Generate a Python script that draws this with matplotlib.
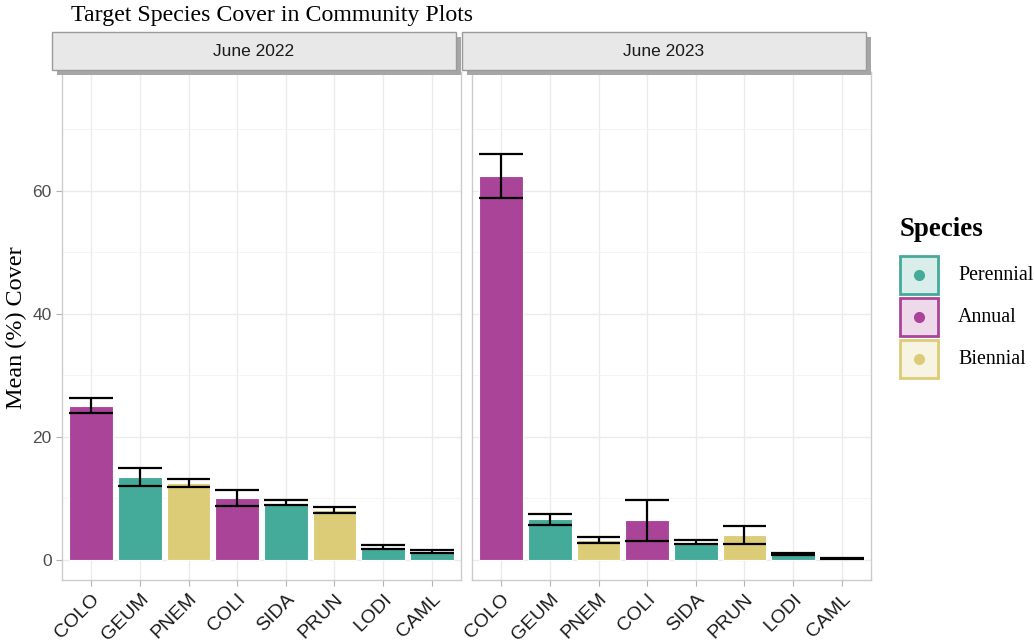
import numpy as np
import matplotlib.pyplot as plt
from matplotlib.patches import Rectangle
from matplotlib.lines import Line2D

# Data
species = ['COLO', 'GEUM', 'PNEM', 'COLI', 'SIDA', 'PRUN', 'LODI', 'CAML']
life_form = ['Annual', 'Perennial', 'Biennial', 'Annual', 'Perennial', 'Biennial', 'Perennial', 'Perennial']
panels = ['June 2022', 'June 2023']
mean_2022 = [25.1, 13.5, 12.5, 10.1, 9.3, 8.1, 2.1, 1.4]
se_2022 = [1.15, 1.5, 0.65, 1.3, 0.4, 0.45, 0.3, 0.2]
mean_2023 = [62.4, 6.6, 3.25, 6.45, 2.9, 4.05, 0.98, 0.2]
se_2023 = [3.5, 0.95, 0.45, 3.3, 0.38, 1.43, 0.2, 0.1]
legend_order = ['Perennial', 'Annual', 'Biennial']
colors = {'Perennial': '#44AA99', 'Annual': '#AA4499', 'Biennial': '#DDCC77'}

W, H = 1034, 643
fig = plt.figure(figsize=(W / 100, H / 100), dpi=100)

def fx(px):
    return px / W

def fy(py):
    return 1 - py / H

serif = ['Liberation Serif', 'DejaVu Serif']
sans = ['Liberation Sans', 'DejaVu Sans']

panel_px = [(62, 461), (472, 871)]
top_px, bot_px = 72, 580
x = np.arange(len(species))

for i, (name, means, ses) in enumerate(zip(panels, [mean_2022, mean_2023], [se_2022, se_2023])):
    l, r = panel_px[i]
    ax = fig.add_axes([fx(l), fy(bot_px), fx(r - l), (bot_px - top_px) / H])
    ax.set_xlim(-0.6, 7.6)
    ax.set_ylim(-3.25, 79.3)
    ax.set_xticks(x)
    ax.set_yticks([0, 20, 40, 60])
    ax.set_yticks([10, 30, 50, 70], minor=True)
    ax.grid(True, which='major', color='#EBEBEB', lw=1.0)
    ax.grid(True, which='minor', axis='y', color='#F2F2F2', lw=0.6)
    ax.set_axisbelow(True)
    for s in ax.spines.values():
        s.set_color('#CCCCCC')
        s.set_linewidth(1.0)
    ax.tick_params(axis='both', which='major', color='#B3B3B3', length=4, width=0.8)
    ax.tick_params(axis='y', which='minor', length=0)
    ax.set_xticklabels(species, rotation=45, ha='right', rotation_mode='anchor',
                       fontsize=14, color='#1A1A1A', family=sans)
    if i == 0:
        ax.set_yticklabels(['0', '20', '40', '60'], fontsize=12.5, color='#4D4D4D', family=sans)
    else:
        ax.set_yticklabels([])
        ax.tick_params(axis='y', length=0)

    bar_cols = [colors[t] for t in life_form]
    ax.bar(x, means, width=0.9, color=bar_cols, edgecolor='white', linewidth=0.8, zorder=2)
    lo = np.array(means) - np.array(ses)
    hi = np.array(means) + np.array(ses)
    ax.vlines(x, lo, hi, color='black', lw=1.6, zorder=3)
    ax.hlines(lo, x - 0.45, x + 0.45, color='black', lw=1.6, zorder=3)
    ax.hlines(hi, x - 0.45, x + 0.45, color='black', lw=1.6, zorder=3)

    # facet strip with drop shadow
    sl, sr = l - 10, r - 5
    st, sb = 32, 70
    fig.add_artist(Rectangle((fx(sl + 5), fy(sb + 5)), fx(sr - sl), (sb - st) / H,
                             transform=fig.transFigure, facecolor='#A6A6A6', edgecolor='none'))
    fig.add_artist(Rectangle((fx(sl), fy(sb)), fx(sr - sl), (sb - st) / H,
                             transform=fig.transFigure, facecolor='#E8E8E8', edgecolor='#9A9A9A', lw=1.0))
    fig.text(fx((sl + sr) / 2), fy((st + sb) / 2), name, ha='center', va='center',
             fontsize=12.5, color='#1A1A1A', family=sans)

fig.text(fx(71), fy(15), 'Target Species Cover in Community Plots', ha='left', va='center',
         fontsize=17.2, family=serif)
fig.text(fx(16), fy(328), 'Mean (%) Cover', rotation=90, ha='center', va='center',
         fontsize=17.4, family=serif)

# legend
fig.text(fx(900), fy(229), 'Species', ha='left', va='center', fontsize=19.4,
         fontweight='bold', family=serif)
for k, lab in enumerate(legend_order):
    top = 256 + k * 42
    c = colors[lab]
    fig.add_artist(Rectangle((fx(900), fy(top + 38)), fx(38), 38 / H, transform=fig.transFigure,
                             facecolor=c + '33', edgecolor=c, lw=2.0))
    fig.add_artist(Line2D([fx(919)], [fy(top + 19)], transform=fig.transFigure, marker='o',
                          markersize=7, color=c, linestyle='none'))
    fig.text(fx(958), fy(top + 19), lab, ha='left', va='center', fontsize=14.4, family=serif)

fig.savefig('out.png', dpi=100)
